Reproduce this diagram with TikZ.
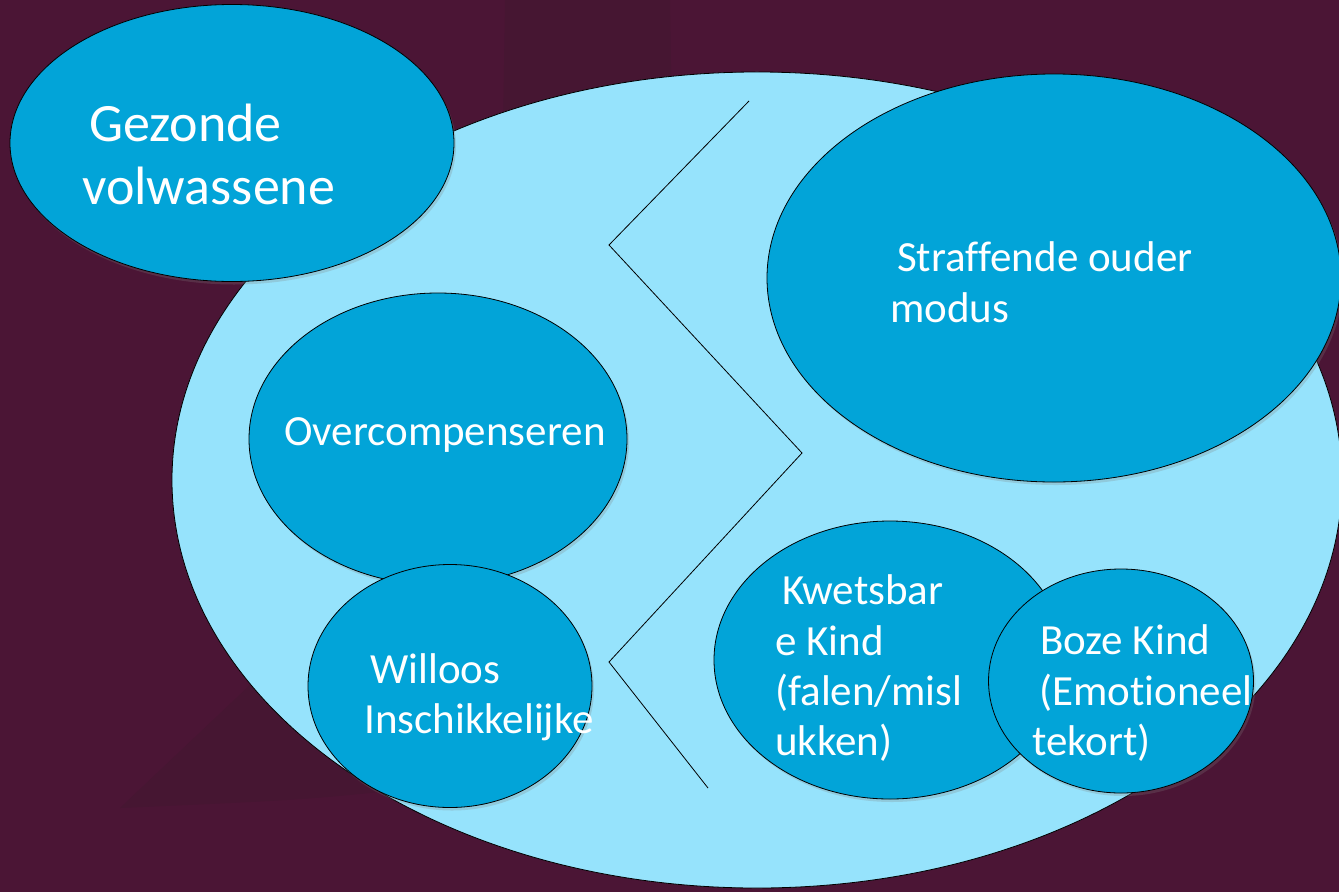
\documentclass[tikz,border=0pt]{standalone}
\usepackage{fontspec}
\setmainfont{Carlito}[Ligatures={NoCommon}]
\usetikzlibrary{shapes.geometric,shadows}
\definecolor{bgc}{RGB}{75,21,53}
\definecolor{bgdark}{RGB}{70,22,50}
\definecolor{lightblue}{RGB}{150,227,252}
\definecolor{midblue}{RGB}{2,164,216}
\tikzset{
  x=1bp, y=-1bp,
  bubble/.style={ellipse, draw=black, line width=0.8bp, fill=midblue, inner sep=0pt,
    drop shadow={opacity=0.25, shadow xshift=2bp, shadow yshift=-3bp}},
  txt/.style={anchor=base west, inner sep=0pt, text=white, font=\fontsize{43bp}{50bp}\selectfont},
  bigtxt/.style={anchor=base west, inner sep=0pt, text=white, font=\fontsize{54bp}{62bp}\selectfont},
  zig/.style={draw=black, line width=0.8bp}
}
\begin{document}
\begin{tikzpicture}
\useasboundingbox (0,0) rectangle (1339,892);
\clip (0,0) rectangle (1339,892);
\fill[bgc] (0,0) rectangle (1339,892);
% subtle darker background shapes
\fill[bgdark] (505,0) -- (670,0) -- (672,130) -- (503,130) -- cycle;
\fill[bgdark] (120,808) -- (250,685) -- (400,760) -- (400,790) .. controls (300,800) .. (120,808) -- cycle;
% big light ellipse
\node[ellipse, draw=black, line width=0.8bp, fill=lightblue, inner sep=0pt,
  minimum width=1170bp, minimum height=816bp] (big) at (757,480) {};
% zigzag line
\coordinate (z1) at (749,101);
\coordinate (z2) at (609,245);
\coordinate (z3) at (802,453);
\coordinate (z4) at (609,662);
\coordinate (z5) at (708,788);
\draw[zig] (z1) -- (z2) -- (z3) -- (z4) -- (z5);
% bubbles
\node[bubble, minimum width=444bp, minimum height=277bp] (gez) at (232,143) {};
\node[bubble, minimum width=574bp, minimum height=408bp] (straf) at (1054,278) {};
\node[bubble, minimum width=378bp, minimum height=292bp] (over) at (438,439) {};
\node[bubble, minimum width=284bp, minimum height=243bp] (will) at (450,686) {};
\node[bubble, minimum width=352bp, minimum height=278bp] (kwets) at (890,660) {};
\node[bubble, minimum width=265bp, minimum height=224bp] (boze) at (1121,681) {};
% texts
\node[bigtxt] (gez1) at (89,141) {Gezonde};
\node[bigtxt] (gez2) at (82,204) {volwassene};
\node[txt] (straf1) at (897,271) {Straffende ouder};
\node[txt] (straf2) at (890,322) {modus};
\node[txt] (over1) at (284,445) {Overcompenseren};
\node[txt] (will1) at (370,683) {Willoos};
\node[txt] (will2) at (364,733) {Inschikkelijke};
\node[txt] (kw1) at (782,604) {Kwetsbar};
\node[txt] (kw2) at (775,655) {e Kind};
\node[txt] (kw3) at (775,705) {(falen/misl};
\node[txt] (kw4) at (775,755) {ukken)};
\node[txt] (bz1) at (1040,654) {Boze Kind};
\node[txt] (bz2) at (1039,705) {(Emotioneel};
\node[txt] (bz3) at (1032,755) {tekort)};
\end{tikzpicture}
\end{document}
